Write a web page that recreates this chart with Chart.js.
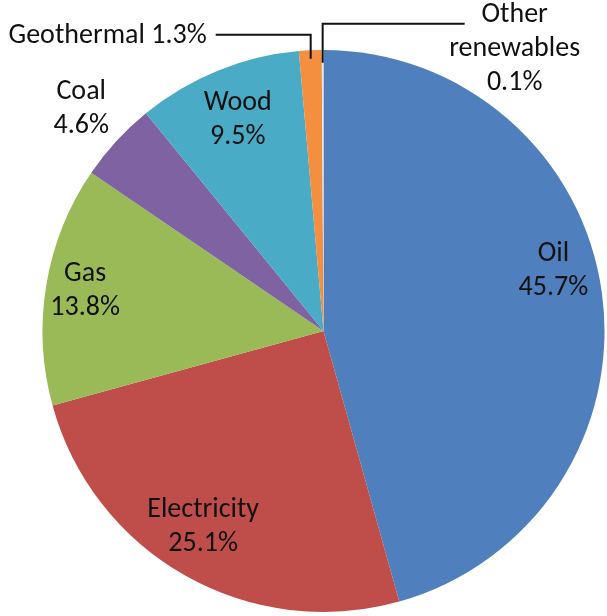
<!DOCTYPE html>
<html>
<head>
<meta charset="utf-8">
<script src="https://cdn.jsdelivr.net/npm/chart.js@4.4.1/dist/chart.umd.min.js"></script>
<style>
    html, body { margin: 0; padding: 0; background: #ffffff; }
    canvas { display: block; }
</style>
</head>
<body>
<canvas id="pie" width="607" height="616"></canvas>
<script>
// data
const categories = ['Oil', 'Electricity', 'Gas', 'Coal', 'Wood', 'Geothermal', 'Other renewables'];
const shares = [45.7, 25.1, 13.8, 4.6, 9.5, 1.3, 0.1];
const labelLines = [
    ['Oil', '45.7%'],
    ['Electricity', '25.1%'],
    ['Gas', '13.8%'],
    ['Coal', '4.6%'],
    ['Wood', '9.5%'],
    ['Geothermal 1.3%'],
    ['Other', 'renewables', '0.1%']
];

const sliceColors = ['#4F7FBC', '#BF4E4B', '#99BA57', '#7E62A1', '#49ABC6', '#F38F3F', '#DCE6F2'];

// how each label sits relative to its slice (radius factor, angle nudge in degrees)
const labelPlacement = [
    { r: 0.845, shift: -6.7 },
    { r: 0.82, shift: 2 },
    { r: 0.86, shift: 0 },
    { r: 1.17, shift: 0 },
    { r: 0.81, shift: 0 },
    { r: 0.97, shift: 0, leader: { up: 24, across: -95, gap: 9, align: 'right' } },
    { r: 0.955, shift: 0, leader: { up: 39, across: 142, gap: 50, align: 'center' } }
];

const FONT = '28px Carlito, Lato, "Liberation Sans", sans-serif';
const LINE_H = 34;

const pieLabels = {
    id: 'pieLabels',
    afterDatasetsDraw(chart) {
        const ctx = chart.ctx;
        const arcs = chart.getDatasetMeta(0).data;
        ctx.save();
        ctx.font = FONT;
        ctx.fillStyle = '#111111';
        ctx.textBaseline = 'middle';
        arcs.forEach((arc, i) => {
            const p = labelPlacement[i];
            const mid = (arc.startAngle + arc.endAngle) / 2 + p.shift * Math.PI / 180;
            const rad = arc.outerRadius * p.r;
            const x = arc.x + Math.cos(mid) * rad;
            const y = arc.y + Math.sin(mid) * rad;
            const lines = labelLines[i];
            if (p.leader) {
                const elbowY = y - p.leader.up;
                const endX = x + p.leader.across;
                ctx.strokeStyle = '#111111';
                ctx.lineWidth = 2;
                ctx.beginPath();
                ctx.moveTo(x, y);
                ctx.lineTo(x, elbowY);
                ctx.lineTo(endX, elbowY);
                ctx.stroke();
                if (p.leader.align === 'right') {
                    ctx.textAlign = 'right';
                    ctx.fillText(lines[0], endX - p.leader.gap, elbowY + 1);
                } else {
                    ctx.textAlign = 'center';
                    const cx = endX + p.leader.gap;
                    lines.forEach((t, k) => ctx.fillText(t, cx, elbowY - 9 + k * LINE_H));
                }
            } else {
                ctx.textAlign = 'center';
                const top = y - (lines.length - 1) * LINE_H / 2;
                lines.forEach((t, k) => ctx.fillText(t, x, top + k * LINE_H));
            }
        });
        ctx.restore();
    }
};

new Chart(document.getElementById('pie').getContext('2d'), {
    type: 'pie',
    data: {
        labels: categories,
        datasets: [{
            data: shares,
            backgroundColor: sliceColors,
            borderWidth: 0
        }]
    },
    options: {
        responsive: false,
        animation: false,
        layout: { padding: { left: 42, right: 2, top: 50, bottom: 4 } },
        plugins: {
            legend: { display: false },
            tooltip: { enabled: false }
        }
    },
    plugins: [pieLabels]
});
</script>
</body>
</html>
